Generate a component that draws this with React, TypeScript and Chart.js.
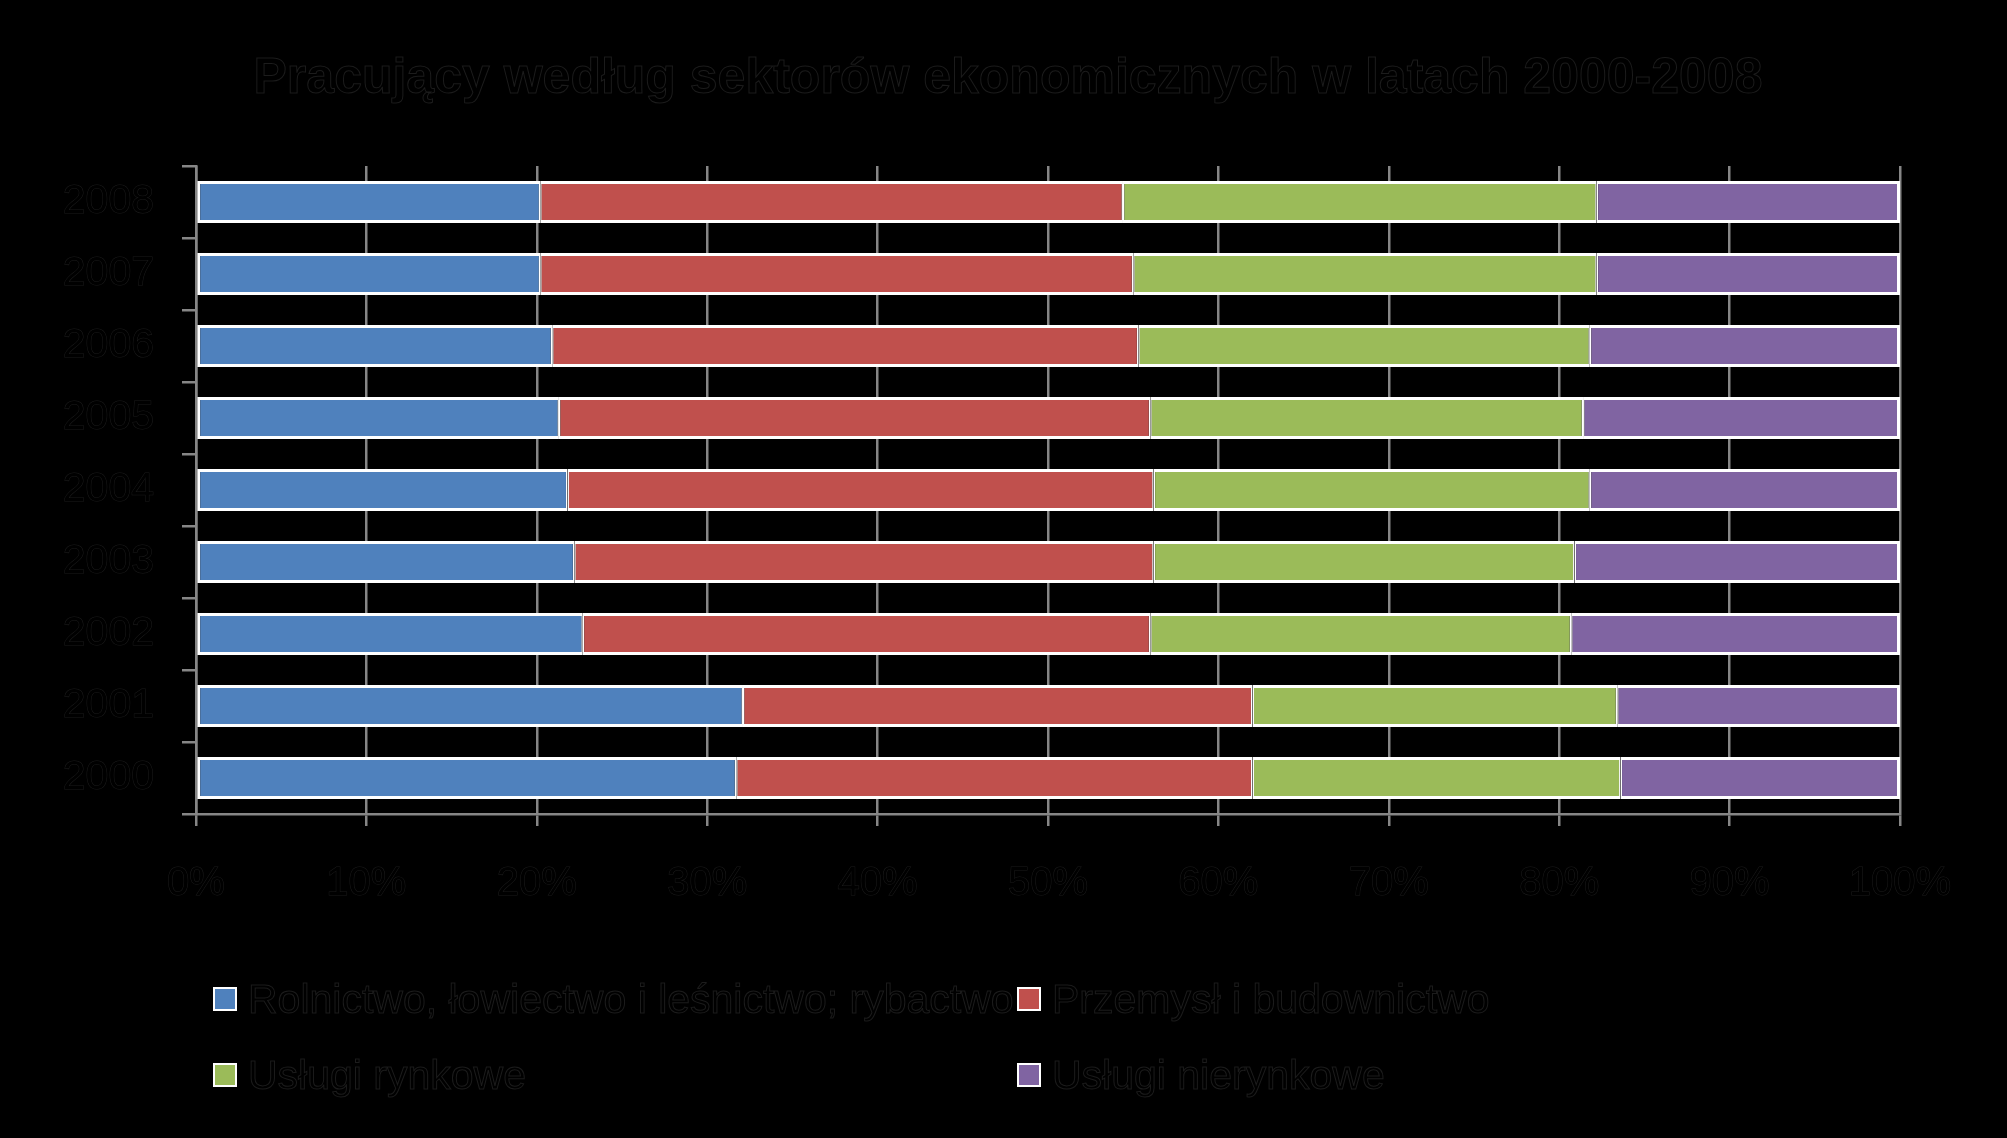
import React, { useEffect, useRef } from 'react';
import { Chart, registerables } from 'chart.js';

Chart.register(...registerables);

const title = 'Pracujący według sektorów ekonomicznych w latach 2000-2008';
const years = ['2008', '2007', '2006', '2005', '2004', '2003', '2002', '2001', '2000'];
const seriesNames = [
  'Rolnictwo, łowiectwo i leśnictwo; rybactwo',
  'Przemysł i budownictwo',
  'Usługi rynkowe',
  'Usługi nierynkowe',
];
const agriculture = [20.2, 20.2, 20.9, 21.3, 21.8, 22.2, 22.7, 32.1, 31.7];
const industry = [34.2, 34.8, 34.4, 34.7, 34.4, 34.0, 33.3, 29.9, 30.3];
const marketServices = [27.8, 27.2, 26.5, 25.4, 25.6, 24.7, 24.7, 21.4, 21.6];
const nonMarketServices = [17.8, 17.8, 18.2, 18.6, 18.2, 19.1, 19.3, 16.6, 16.4];
const xTickValues = [0, 10, 20, 30, 40, 50, 60, 70, 80, 90, 100];
const colors = ['#4F81BD', '#C0504D', '#9BBB59', '#8064A2'];

const FONT = '"Liberation Sans", Arial, sans-serif';
const TEXT_EDGE = '#1c1c1c';

export default function App() {
  const ref = useRef<HTMLCanvasElement | null>(null);

  useEffect(() => {
    if (!ref.current) return;
    const values = [agriculture, industry, marketServices, nonMarketServices];
    const chart = new Chart(ref.current, {
      type: 'bar',
      data: {
        labels: years,
        datasets: values.map((v, i) => ({
          label: seriesNames[i],
          data: v,
          backgroundColor: colors[i],
          borderColor: '#FFFFFF',
          borderWidth: {
            top: 3,
            bottom: 3,
            left: i === 0 ? 3 : 1.5,
            right: i === 3 ? 3 : 1.5,
          },
          borderSkipped: false,
          barPercentage: 0.58,
          categoryPercentage: 1,
        })),
      },
      options: {
        indexAxis: 'y',
        responsive: false,
        animation: false,
        devicePixelRatio: 1,
        layout: { padding: { top: 166, left: 0, right: 107, bottom: 200 } },
        plugins: {
          legend: { display: false },
          title: { display: false },
          tooltip: { enabled: false },
        },
        scales: {
          x: {
            stacked: true,
            min: 0,
            max: 100,
            afterBuildTicks: (scale: any) => {
              scale.ticks = xTickValues.map((v) => ({ value: v }));
            },
            afterFit: (scale: any) => {
              scale.height = 124;
            },
            grid: {
              color: '#868686',
              lineWidth: 2.5,
              drawTicks: true,
              tickLength: 12,
            },
            border: { display: true, color: '#868686', width: 2.5 },
            ticks: {
              color: '#000000',
              textStrokeColor: TEXT_EDGE,
              textStrokeWidth: 1,
              padding: 34,
              font: { family: FONT, size: 40 },
              callback: (v: any) => v + '%',
            },
          },
          y: {
            stacked: true,
            afterFit: (scale: any) => {
              scale.width = 196;
            },
            grid: {
              color: '#868686',
              lineWidth: 2.5,
              drawOnChartArea: false,
              drawTicks: true,
              tickLength: 14,
              offset: true,
            },
            border: { display: true, color: '#868686', width: 2.5 },
            ticks: {
              color: '#000000',
              textStrokeColor: TEXT_EDGE,
              textStrokeWidth: 1,
              padding: 28,
              font: { family: FONT, size: 41 },
            },
          },
        },
      },
    });
    return () => chart.destroy();
  }, []);

  const legendItem = (i: number, left: number, top: number) => (
    <div
      key={i}
      style={{
        position: 'absolute',
        left,
        top,
        display: 'flex',
        alignItems: 'center',
        whiteSpace: 'nowrap',
      }}
    >
      <div
        style={{
          width: 20,
          height: 20,
          background: colors[i],
          border: '2px solid #FFFFFF',
          marginRight: 11,
        }}
      />
      <span
        style={{
          fontFamily: FONT,
          fontSize: 41,
          color: '#000000',
          lineHeight: '46px',
          WebkitTextStroke: '1px ' + TEXT_EDGE,
        }}
      >
        {seriesNames[i]}
      </span>
    </div>
  );

  return (
    <div
      style={{
        position: 'fixed',
        left: 0,
        top: 0,
        width: 2007,
        height: 1138,
        background: '#000000',
        overflow: 'hidden',
      }}
    >
      <canvas
        ref={ref}
        width={2007}
        height={1138}
        style={{ position: 'absolute', left: 0, top: 0, width: 2007, height: 1138 }}
      />
      <div
        style={{
          position: 'absolute',
          left: 0,
          width: 2016,
          top: 47,
          textAlign: 'center',
          fontFamily: FONT,
          fontWeight: 'bold',
          fontSize: 50,
          color: '#000000',
          lineHeight: '58px',
          whiteSpace: 'nowrap',
          WebkitTextStroke: '1px ' + TEXT_EDGE,
        }}
      >
        {title}
      </div>
      {legendItem(0, 213, 976)}
      {legendItem(1, 1017, 976)}
      {legendItem(2, 213, 1052)}
      {legendItem(3, 1017, 1052)}
    </div>
  );
}
